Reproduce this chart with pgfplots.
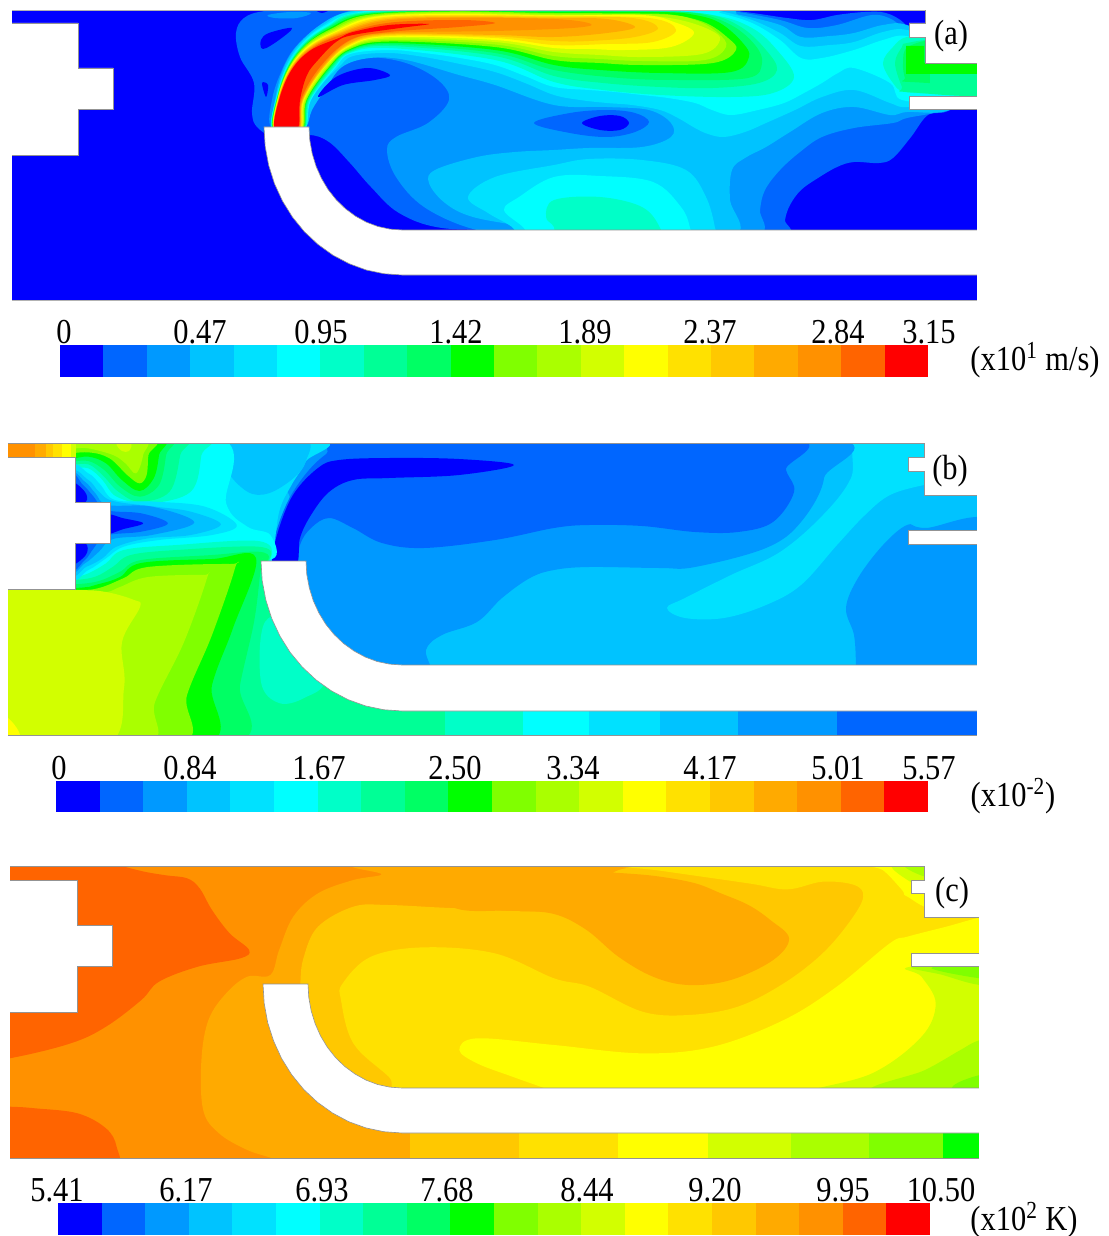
\documentclass[border=0pt]{standalone}
\usepackage{pgfplots}
\pgfplotsset{compat=1.18}
\usepackage{graphicx}
\usepackage{fontspec}
\setmainfont{Liberation Serif}
\definecolor{c1}{HTML}{0000FF}\definecolor{c2}{HTML}{0066FF}\definecolor{c3}{HTML}{0099FF}\definecolor{c4}{HTML}{00C3FF}
\definecolor{c5}{HTML}{00E1FF}\definecolor{c6}{HTML}{00FFFF}\definecolor{c7}{HTML}{00FFC8}\definecolor{c8}{HTML}{00FF96}
\definecolor{c9}{HTML}{00FF64}\definecolor{c10}{HTML}{00FF00}\definecolor{c11}{HTML}{80FF00}\definecolor{c12}{HTML}{AAFF00}
\definecolor{c13}{HTML}{D2FF00}\definecolor{c14}{HTML}{FFFF00}\definecolor{c15}{HTML}{FFE100}\definecolor{c16}{HTML}{FFC800}
\definecolor{c17}{HTML}{FFAA00}\definecolor{c18}{HTML}{FF9100}\definecolor{c19}{HTML}{FF6400}\definecolor{c20}{HTML}{FF0000}
\pgfplotsset{
 zb/.style={x filter/.expression={x/2.83},y filter/.expression={435+y/3}},
 zc/.style={x filter/.expression={x/2.83},y filter/.expression={860+y/3}},
}
\newcommand\R[3][]{\addplot[#1,fill=#2,draw=none,smooth cycle,tension=0.6] coordinates {#3};}
\newcommand\Q[3][]{\addplot[#1,fill=#2,draw=none] coordinates {#3};}
\newcommand\W[1]{\addplot[fill=white,draw=gray!85,line width=0.3pt] coordinates {#1} --cycle;}
\newcommand\T[3]{\node at (axis cs:#1,#2) {\scalebox{0.87}[1]{\fontsize{17.5}{20}\selectfont #3}};}
\newcommand\CB[4]{\pgfplotsinvokeforeach{1,...,20}{\addplot[fill=c##1,draw=none] coordinates {({#1+(##1-1)*#2},#3) ({#1+##1*#2},#3) ({#1+##1*#2},#4) ({#1+(##1-1)*#2},#4)} --cycle;}}
\begin{document}
\begin{tikzpicture}
\path (0,0) rectangle (554pt,618pt);
\begin{axis}[at={(0,0)},anchor=south west,scale only axis,width=554pt,height=618pt,hide axis,
 xmin=0,xmax=1108,ymin=0,ymax=1236,y dir=reverse,enlargelimits=false,axis on top=false]
%% ---------- panel (a) ----------
\Q{c1}{(5,5)(990,5)(990,305)(5,305)}
\R{c2}{(236,33)(244,18)(265,11)(314,8)(340,5)(500,5)(702,8)(745,12)(787,18)(812,20)(837,15)(865,12)(886,13)(904,23)(915,40)(950,60)(990,80)(950,110)(928,115)(911,137)(893,158)(879,163)(854,162)(837,167)(818,178)(801,190)(790,205)(785,220)(785,235)(700,245)(600,245)(520,231)(442,228)(399,213)(371,187)(350,163)(329,142)(309,135)(280,140)(258,128)(252,113)(254,83)(240,57)}
\R{c3}{(270,125)(272,100)(279,77)(293,50)(318,27)(346,12)(380,8)(500,6)(700,8)(738,12)(780,20)(808,28)(837,25)(872,15)(893,20)(907,33)(940,50)(990,80)(950,108)(907,118)(893,123)(854,128)(822,137)(800,152)(780,170)(765,190)(760,210)(759,235)(680,245)(600,245)(530,236)(473,229)(424,207)(396,177)(387,150)(396,137)(428,123)(449,100)(438,80)(406,63)(367,57)(339,63)(318,90)(304,113)(300,127)(285,135)}
\R{c4}{(272,128)(275,100)(282,72)(296,47)(320,25)(348,12)(400,8)(700,9)(740,15)(780,25)(801,37)(830,36)(854,33)(883,25)(907,25)(945,45)(990,80)(950,110)(907,112)(890,115)(854,107)(822,113)(790,132)(766,147)(745,158)(732,170)(730,200)(736,235)(650,245)(570,240)(530,228)(473,217)(445,203)(429,183)(435,170)(477,157)(515,152)(554,150)(589,148)(642,147)(671,137)(671,123)(649,110)(607,107)(554,105)(495,85)(459,75)(406,60)(370,58)(342,67)(325,90)(312,110)(306,127)(290,135)}
\R{c5}{(272,128)(276,98)(286,66)(302,42)(325,24)(350,12)(420,9)(700,9)(720,11)(752,20)(780,33)(801,46)(830,45)(854,42)(883,32)(907,30)(945,45)(990,80)(950,100)(907,107)(890,103)(854,90)(822,97)(795,110)(766,123)(745,132)(724,137)(708,134)(695,128)(678,118)(660,110)(632,105)(607,103)(580,100)(554,95)(525,83)(495,72)(460,64)(424,57)(389,53)(353,56)(339,67)(323,83)(309,103)(305,127)(290,135)}
\R{c5}{(715,228)(715,245)(620,250)(530,245)(512,227)(488,213)(468,197)(495,177)(554,165)(589,159)(642,160)(686,170)(706,197)}
\R{c6}{(690,228)(690,245)(610,250)(540,245)(523,227)(504,210)(519,197)(554,177)(600,176)(653,182)(681,207)}
\R{c7}{(660,228)(660,245)(610,250)(560,245)(554,227)(546,217)(554,200)(600,197)(642,207)}
% eddy
\R{c2}{(534,123)(570,113)(607,110)(635,113)(649,122)(635,132)(607,137)(570,133)}
\R{c1}{(582,123)(600,116)(620,116)(629,123)(620,130)(600,130)}
\R{c1}{(318,97)(336,77)(367,68)(390,75)(375,80)(343,85)}
\R{c1}{(261,40)(269,33)(292,28)(279,40)(263,49)}
\R{c3}{(268,15)(290,12)(311,13)(297,18)(275,18)}
\R{c1}{(262,83)(266,97)(268,85)}
\R{c1}{(315,9)(330,9)(322,13)}
% jet
\R{c6}{(272.5,130)(277.5,93)(288.3,63.5)(304.6,41)(326,25)(354,13)(420,9)(700,9)(720,13)(752,23)(780,40)(801,58)(822,58)(854,50)(883,40)(907,36)(945,50)(990,80)(950,100)(902,100)(890,83)(854,68)(838,73)(822,83)(804,93)(784,103)(758,110)(731,115)(712,110)(695,103)(668,98)(642,95)(615,92)(589,90)(554,87)(525,76)(495,65)(460,58)(424,53)(389,50)(350,54)(336,67)(311,100)(304,130)}
\R{c7}{(273,130)(277.7,94)(288.7,64)(305,42)(328,26)(357,13)(450,10)(554,10)(640,10)(713,15)(752,28)(777,50)(794,77)(773,93)(731,97)(660,95)(603,90)(554,82)(495,60)(389,48)(350,53)(334.5,67)(310,100)(304,130)}
\R{c8}{(273,130)(277.8,95)(289,65)(306,42.5)(328.5,26.5)(360,13.5)(450,10)(554,10.5)(640,11)(706,14)(741,27)(766,50)(777,70)(759,83)(713,88)(660,87)(603,83)(554,76)(495,56)(389,46)(350,52)(333,67)(309,100)(303,130)}
\R{c9}{(273.5,130)(277.9,95)(289,65)(306,43)(329,27)(362,14)(450,10.5)(554,11)(640,11.5)(695,13)(731,25)(755,45)(762,63)(748,78)(678,80)(620,78)(554,70)(495,53)(389,44.5)(350,51)(331.5,67)(308,100)(303,130)}
\R{c10}{(273.5,130)(278,96)(289.3,66)(306.6,44)(330,28)(365,14.5)(450,11)(554,12)(660,12)(695,15)(720,23)(742,42)(749,57)(731,72)(660,73)(600,70)(554,65)(495,50)(389,43)(350,50)(330,67)(307,100)(302,130)}
\R{c11}{(274,130)(278,96)(289.5,66)(307,44)(331,29)(367,15)(450,11.5)(554,13)(640,13.5)(674,15)(706,23)(728,38)(736,50)(713,63)(642,65)(600,63)(554,60)(495,47)(389,41.5)(350,49)(329,67)(306.5,100)(302,130)}
\R{c12}{(274,130)(278.2,96.5)(289.8,66.5)(307.5,45)(332,30)(369.5,16)(450,12)(554,14)(660,14.5)(695,20)(718,33)(726,47)(705,60)(642,61)(600,59)(554,56)(495,44.5)(389,40)(350,48)(328,67)(306,100)(301,130)}
\R{c13}{(274.3,130)(278.3,97)(290,67)(308,45.5)(333,31)(372,16.5)(450,13)(554,15)(640,15.5)(680,20)(710,30)(720,40)(702,54)(642,57)(600,55)(554,52)(495,42)(389,38.5)(350,47)(327,67)(305,100)(301,130)}
\R{c14}{(274.5,130)(278.4,97)(290.2,67.4)(308.4,46)(334,32)(374,17)(450,14)(554,15.5)(642,15)(674,22)(694,33)(671,47)(625,50)(590,49)(554,48)(495,40)(389,37)(350,46)(325,67)(304,100)(300,130)}
\R{c15}{(274.7,130)(278.5,98)(290.4,68)(309,47)(334.7,32.7)(377,18)(450,15)(554,16)(649,18)(676,30)(653,42)(607,44)(554,45)(495,38)(389,36)(350,45)(324.5,67)(303.5,100)(300,130)}
\R{c16}{(274.7,130)(278.6,98)(290.6,68)(309,47.5)(335.5,33.5)(379,19)(450,16)(554,17)(632,18)(658,28)(635,37)(589,41)(554,41)(495,36.5)(389,35)(350,44)(324,67)(303,100)(299,130)}
\R{c17}{(275,130)(278.7,99)(290.8,69)(309.7,48)(336,34.4)(381.6,20)(450,17)(554,18)(607,19)(635,27)(607,33)(554,37)(495,35)(389,34)(350,43)(323,67)(302.5,100)(299,130)}
\R{c18}{(275,130)(278.8,99)(291,69)(310,48.7)(337,35)(384,21)(450,18)(554,19)(591,24)(572,28)(495,31)(389,33)(350,41)(322,67)(302,100)(298,130)}
\R{c19}{(275,130)(278.9,99.6)(291.3,69.6)(310.6,49.4)(338,36)(387,23)(459,20)(495,23)(459,27)(389,32)(350,40)(320,67)(301,100)(298,130)}
\R{c20}{(275,130)(279,100)(291.5,70)(311,50)(339,38)(353,32)(389,25)(429,24)(400,28)(353,35)(336,42)(318,60)(307,75)(300,100)(297,130)}
% outlet
\R{c7}{(883,63)(893,47)(907,37)(940,37)(1000,60)(1000,90)(940,93)(905,92)(893,83)}
\R{c8}{(895,63)(902,47)(907,43)(940,40)(1000,50)(1000,93)(907,92)(902,87)}
\R{c9}{(903,63)(908,47)(940,40)(1000,50)(1000,82)(910,82)(905,78)}
\Q{c10}{(906,46)(924,46)(924,63)(985,63)(985,74)(906,74)}
\Q{c8}{(930,74)(985,74)(985,93)(930,93)}
%% ---------- panel (b) ----------
\Q{c4}{(0,430)(990,430)(990,745)(0,745)}
\R{c3}{(907,525)(883,545)(858,578)(846,608)(854,635)(856,665)(856,680)(1000,680)(1000,528)(925,528)}
\R{c5}{(860,435)(851,478)(823,515)(780,552)(731,575)(685,598)(667,608)(685,618)(724,618)(766,605)(801,585)(837,545)(865,515)(890,495)(924,485)(940,484)(940,435)}
\R{c3}{(426,680)(426,650)(442,635)(477,622)(502,598)(530,578)(554,570)(589,567)(660,568)(695,567)(766,548)(801,522)(824,478)(812,435)(300,435)(290,500)(290,570)(340,680)}
\R{c2}{(295,575)(300,545)(311,528)(329,518)(353,528)(382,543)(424,548)(495,540)(554,528)(589,525)(642,526)(695,532)(738,532)(773,522)(794,492)(786,470)(777,435)(371,435)(325,455)(293,492)(275,535)(272,560)}
\R{c1}{(273,565)(277,535)(293,495)(318,468)(339,460)(389,458)(459,459)(514,465)(459,475)(389,478)(353,480)(329,492)(311,515)(300,538)(296,565)}
\R[zb]{c5}{(880,10)(865,80)(825,150)(790,230)(770,370)(740,385)(400,420)(100,450)(100,10)}
\R[zb]{c4}{(640,10)(640,100)(700,170)(760,175)(830,130)(865,80)(860,10)}
\R[zb]{c6}{(150,10)(625,10)(640,205)(700,275)(765,300)(770,372)(600,345)(400,345)(300,395)(212,440)(150,440)}
\R[zb]{c7}{(150,10)(570,10)(570,60)(540,170)(420,205)(330,185)(290,135)(250,100)(200,100)(150,100)}
\R[zb]{c8}{(150,10)(510,10)(510,60)(480,170)(395,200)(335,170)(290,120)(250,88)(200,90)(150,90)}
\R[zb]{c9}{(150,10)(470,10)(470,60)(450,150)(395,185)(340,155)(295,105)(250,78)(200,80)(150,80)}
\R[zb]{c10}{(150,10)(450,10)(450,60)(435,130)(395,168)(345,135)(300,85)(250,65)(200,72)(150,72)}
\R[zb]{c11}{(150,10)(430,10)(420,60)(415,120)(395,145)(360,120)(310,70)(250,52)(150,55)}
\R[zb]{c12}{(150,10)(400,10)(405,60)(385,115)(355,85)(320,60)(250,40)(212,40)(150,40)}
\R[zb]{c13}{(330,25)(370,25)(365,48)(345,48)}
\Q[zb]{c18}{(20,10)(100,10)(100,66)(20,66)}
\Q[zb]{c17}{(100,10)(130,10)(130,66)(100,66)}
\Q[zb]{c16}{(130,10)(150,10)(150,66)(130,66)}
\Q[zb]{c15}{(150,10)(175,10)(175,66)(150,66)}
\Q[zb]{c14}{(175,10)(200,10)(200,66)(175,66)}
\Q[zb]{c13}{(200,10)(215,10)(215,66)(200,66)}
\R[zb]{c7}{(150,425)(212,425)(250,415)(300,385)(350,345)(500,330)(730,318)(768,365)(700,420)(500,500)(150,500)}
\R[zb]{c8}{(150,435)(212,435)(270,425)(320,395)(370,360)(500,345)(730,335)(765,368)(700,420)(500,500)(150,500)}
\R[zb]{c9}{(150,448)(212,448)(280,438)(340,410)(400,375)(600,360)(730,350)(760,372)(700,420)(500,500)(150,500)}
\Q{c8}{(200,570)(262,558)(300,640)(445,705)(445,745)(0,745)(0,600)}
\R{c7}{(265,622)(261,682)(279,703)(304,698)(325,678)(300,620)}
\R{c9}{(231,745)(240,685)(254,622)(260,575)(262,558)(240,562)(100,600)(-20,760)}
\R{c10}{(203,745)(212,685)(233,628)(256,558)(212,559)(141,563)(120,577)(99,584)(75,588)(-10,590)(-10,745)}
\R{c11}{(177,745)(187,695)(212,635)(235,568)(230,564)(148,567)(124,578)(99,588)(75,590)(-10,590)(-10,745)}
\R{c12}{(145,745)(155,702)(184,642)(207,578)(203,575)(148,577)(120,587)(106,592)(75,592)(-10,592)(-10,745)}
\R{c13}{(106,745)(124,688)(122,642)(140,607)(134,600)(106,592)(75,590)(-10,590)(-10,745)}
\R{c14}{(8,718)(19,732)(19,745)(0,745)(0,718)}
\Q{c7}{(445,700)(523,700)(523,745)(445,745)}
\Q{c6}{(523,700)(589,700)(589,745)(523,745)}
\Q{c5}{(589,700)(660,700)(660,745)(589,745)}
\Q{c4}{(660,700)(738,700)(738,745)(660,745)}
\Q{c3}{(738,700)(837,700)(837,745)(738,745)}
\Q{c2}{(837,700)(990,700)(990,745)(837,745)}
\R[zb]{c5}{(200,110)(250,115)(285,150)(325,195)(440,200)(580,215)(670,270)(600,300)(450,315)(350,335)(300,370)(250,405)(200,415)}
\R[zb]{c4}{(200,125)(250,135)(280,170)(320,198)(440,215)(540,230)(625,268)(540,300)(420,310)(330,335)(290,370)(245,395)(200,405)}
\R[zb]{c3}{(200,130)(240,140)(270,175)(305,210)(430,215)(550,262)(430,300)(320,312)(280,350)(240,385)(200,395)}
\R[zb]{c2}{(200,130)(235,150)(265,185)(300,225)(400,235)(475,265)(400,290)(300,302)(265,340)(240,375)(200,390)}
\R[zb]{c1}{(300,240)(350,250)(405,265)(350,282)(300,295)}
\R[zb]{c1}{(200,140)(240,170)(243,200)(200,205)}
\R[zb]{c1}{(200,326)(243,326)(243,360)(200,390)}
%% ---------- panel (c) ----------
\Q{c18}{(0,855)(1000,855)(1000,1170)(0,1170)}
\R[zc]{c19}{(-150,-50)(330,-20)(330,10)(400,33)(470,46)(530,55)(565,85)(600,150)(650,220)(705,270)(680,295)(560,320)(450,365)(400,420)(300,500)(200,550)(27,595)(-150,620)}
\R[zc]{c19}{(-150,735)(27,740)(100,745)(220,760)(300,805)(330,860)(325,930)(150,960)(-150,960)}
\R[zc]{c17}{(1000,5)(1000,22)(1080,43)(1000,60)(900,100)(830,170)(790,270)(765,345)(700,350)(640,400)(590,480)(570,600)(575,750)(620,820)(700,870)(780,900)(780,930)(1500,930)(2900,930)(2900,450)(2900,5)(1800,5)}
\R[zc]{c16}{(850,370)(860,290)(900,200)(1000,140)(1100,135)(1300,145)(1568,150)(1700,80)(1800,20)(2300,5)(2900,5)(2900,400)(2900,750)(2200,750)(1400,750)(1100,750)(900,680)(850,500)}
\R[zc]{c17}{(1300,148)(1450,152)(1568,162)(1660,210)(1750,290)(1848,350)(1948,375)(2068,360)(2188,300)(2233,235)(2180,180)(2118,135)(2040,100)(1968,70)(1868,50)(1768,40)(1568,28)(1400,24)(1200,24)(1200,90)}
\R[zc]{c15}{(965,420)(970,370)(1050,290)(1200,262)(1400,280)(1568,355)(1668,380)(1818,455)(1948,465)(2088,440)(2218,370)(2328,280)(2408,180)(2443,110)(2418,75)(2328,65)(2228,88)(2118,70)(1868,32)(1718,10)(2300,5)(2900,5)(2900,400)(2900,750)(2000,750)(1200,750)(1100,650)(1000,550)}
\R[zc]{c14}{(1300,570)(1350,535)(1568,555)(1818,580)(2018,560)(2218,480)(2368,380)(2518,250)(2568,230)(2678,200)(2783,170)(2900,150)(2900,450)(2900,750)(2300,750)(1700,750)(1568,695)(1450,650)(1350,610)}
\R[zc]{c14}{(2448,10)(2498,30)(2553,90)(2568,110)(2668,150)(2900,100)(2900,5)}
\R[zc]{c13}{(2528,10)(2568,60)(2618,75)(2700,60)(2700,5)}
\R[zc]{c12}{(2558,10)(2618,50)(2700,50)(2700,5)}
\R[zc]{c13}{(2268,700)(2468,640)(2608,530)(2648,430)(2608,350)(2578,320)(2900,300)(2900,525)(2900,750)(2268,750)}
\R[zc]{c12}{(2468,700)(2618,630)(2718,570)(2773,540)(2900,500)(2900,750)}
\R[zc]{c12}{(2588,320)(2668,345)(2773,375)(2900,380)(2900,320)}
\R[zc]{c11}{(2638,322)(2773,355)(2900,360)(2900,322)}
\R[zc]{c11}{(2698,690)(2773,645)(2900,640)(2900,720)}
\Q[zc]{c17}{(780,700)(1160,700)(1160,930)(780,930)}
\Q[zc]{c16}{(1160,700)(1470,700)(1470,930)(1160,930)}
\Q[zc]{c15}{(1470,700)(1748,700)(1748,930)(1470,930)}
\Q[zc]{c14}{(1748,700)(2003,700)(2003,930)(1748,930)}
\Q[zc]{c13}{(2003,700)(2238,700)(2238,930)(2003,930)}
\Q[zc]{c12}{(2238,700)(2458,700)(2458,930)(2238,930)}
\Q[zc]{c11}{(2458,700)(2668,700)(2668,930)(2458,930)}
\Q[zc]{c10}{(2668,700)(2800,700)(2800,930)(2668,930)}
%% ---------- geometry masks ----------
% (a)
\W{(264,127)(309,127)(309.8,140.4)(312.2,153.7)(316.1,166.4)(321.5,178.5)(328.2,189.7)(336.2,199.8)(345.4,208.7)(355.5,216.2)(366.4,222.2)(377.9,226.5)(389.9,229.1)(402,230)(1000,230)(1000,275)(402,275)(384,273.7)(366.3,270)(349.2,263.7)(333,255.2)(318,244.4)(304.4,231.7)(292.5,217.1)(282.5,201)(274.5,183.6)(268.7,165.3)(265.2,146.3)}
\W{(0,23)(78,23)(78,68)(113,68)(113,109)(78,109)(78,155)(0,155)}
\W{(909,96)(1000,96)(1000,109)(909,109)}
\W{(925,0)(925,23)(909,23)(909,37)(925,37)(925,63)(1000,63)(1000,0)}
% (b)
\W{(261,561)(306,561)(306.8,574.6)(309.3,587.9)(313.3,600.8)(318.9,613)(325.8,624.3)(334.1,634.5)(343.6,643.5)(354,651)(365.3,657.1)(377.1,661.5)(389.5,664.1)(402,665)(1000,665)(1000,711)(402,711)(383.6,709.7)(365.5,705.9)(348,699.6)(331.5,690.9)(316.2,680)(302.3,667)(290.1,652.3)(279.9,636)(271.7,618.4)(265.8,599.8)(262.2,580.6)}
\W{(0,457)(75,457)(75,502)(110,502)(110,543)(75,543)(75,589)(0,589)}
\W{(908,530)(1000,530)(1000,544)(908,544)}
\W{(924,430)(924,457)(908,457)(908,471)(924,471)(924,495)(1000,495)(1000,430)}
% (c)
\W{(263,984)(308,984)(308.8,997.6)(311.2,1010.9)(315.2,1023.8)(320.6,1036)(327.4,1047.3)(335.5,1057.5)(344.8,1066.5)(355,1074)(366,1080.1)(377.7,1084.5)(389.7,1087.1)(402,1088)(1000,1088)(1000,1133)(402,1133)(383.9,1131.7)(366,1127.9)(348.8,1121.7)(332.5,1113)(317.4,1102.2)(303.7,1089.4)(291.7,1074.7)(281.6,1058.5)(273.6,1041)(267.7,1022.6)(264.2,1003.4)}
\W{(0,880)(77,880)(77,925)(112,925)(112,966)(77,966)(77,1012)(0,1012)}
\W{(911,953)(1000,953)(1000,966)(911,966)}
\W{(924,850)(924,880)(911,880)(911,893)(924,893)(924,917)(1000,917)(1000,850)}
% outside the domains
\Q{white}{(-20,-20)(1130,-20)(1130,10)(-20,10)}
\Q{white}{(-20,300)(1130,300)(1130,443)(-20,443)}
\Q{white}{(-20,735)(1130,735)(1130,866)(-20,866)}
\Q{white}{(-20,1158)(1130,1158)(1130,1260)(-20,1260)}
\Q{white}{(-20,-20)(12,-20)(12,310)(-20,310)}
\Q{white}{(-20,430)(8,430)(8,745)(-20,745)}
\Q{white}{(-20,855)(10,855)(10,1170)(-20,1170)}
\Q{white}{(977,-20)(1130,-20)(1130,745)(977,745)}
\Q{white}{(979,855)(1130,855)(1130,1170)(979,1170)}
\addplot[gray!60,line width=0.3pt] coordinates {(12,10)(925,10)};
\addplot[gray!60,line width=0.3pt] coordinates {(12,300)(977,300)};
\addplot[gray!85,line width=0.3pt] coordinates {(8,443)(924,443)};
\addplot[gray!85,line width=0.3pt] coordinates {(8,735)(977,735)};
\addplot[gray!85,line width=0.3pt] coordinates {(10,866)(924,866)};
\addplot[gray!85,line width=0.3pt] coordinates {(10,1158)(979,1158)};
%% ---------- colour bars ----------
\CB{60}{43.4}{345}{377}
\CB{56}{43.6}{781}{812}
\CB{58}{43.6}{1203}{1235}
%% ---------- text ----------
\T{64}{332}{0}\T{200}{332}{0.47}\T{321}{332}{0.95}\T{456}{332}{1.42}\T{585}{332}{1.89}\T{710}{332}{2.37}\T{838}{332}{2.84}\T{929}{332}{3.15}
\T{1035}{360}{(x10\textsuperscript{1} m/s)}
\T{59}{768}{0}\T{190}{768}{0.84}\T{319}{768}{1.67}\T{455}{768}{2.50}\T{573}{768}{3.34}\T{710}{768}{4.17}\T{838}{768}{5.01}\T{929}{768}{5.57}
\T{1013}{796}{(x10\textsuperscript{-2})}
\T{57}{1190}{5.41}\T{186}{1190}{6.17}\T{322}{1190}{6.93}\T{447}{1190}{7.68}\T{587}{1190}{8.44}\T{715}{1190}{9.20}\T{843}{1190}{9.95}\T{941}{1190}{10.50}
\T{1024}{1220}{(x10\textsuperscript{2} K)}
\T{951}{36}{(a)}\T{950}{471}{(b)}\T{952}{893}{(c)}
\end{axis}
\end{tikzpicture}
\end{document}
